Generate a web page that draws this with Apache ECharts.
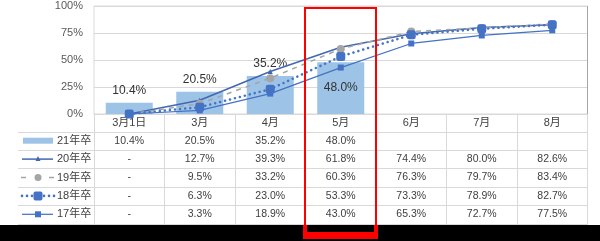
<!DOCTYPE html>
<html><head><meta charset="utf-8">
<script src="https://cdn.jsdelivr.net/npm/echarts@6/dist/echarts.min.js"></script>
<style>html,body{margin:0;padding:0;background:#fff}#c{width:600px;height:241px}</style>
</head><body><div id="c"></div>
<script>
const categories = ['3月1日','3月','4月','5月','6月','7月','8月'];
const yTicks = [0, 25, 50, 75, 100];
const seriesNames = ['21年卒','20年卒','19年卒','18年卒','17年卒'];
const s21 = [10.4, 20.5, 35.2, 48.0, null, null, null];
const s20 = [0, 12.7, 39.3, 61.8, 74.4, 80.0, 82.6];
const s19 = [0, 9.5, 33.2, 60.3, 76.3, 79.7, 83.4];
const s18 = [0, 6.3, 23.0, 53.3, 73.3, 78.9, 82.7];
const s17 = [0, 3.3, 18.9, 43.0, 65.3, 72.7, 77.5];
const allSeries = [s21, s20, s19, s18, s17];

const FONT = '"Liberation Sans Narrow", "Liberation Sans", "Noto Sans CJK JP", sans-serif';
const TXT = '#404040';
const BLUE = '#4472c4';
const DBLUE = '#4168b0';
const GRAY = '#a5a5a5';
const BARC = '#9dc3e6';

const chart = echarts.init(document.getElementById('c'), null, {renderer: 'canvas'});

const barData = s21.map((v, i) => {
  if (v === null) return null;
  if (i === 3) return {value: v, label: {position: 'inside'}};
  return v;
});

chart.setOption({
  animation: false,
  textStyle: {fontFamily: FONT},
  grid: {left: 94, right: 12.5, top: 6, bottom: 127, show: true, borderColor: '#d9d9d9', borderWidth: 1},
  xAxis: {
    type: 'category', data: categories, boundaryGap: true,
    axisLine: {show: true, lineStyle: {color: '#d9d9d9'}},
    axisTick: {show: true, length: 111, lineStyle: {color: '#d9d9d9'}},
    axisLabel: {margin: 3, fontSize: 11, color: TXT, fontFamily: FONT}
  },
  yAxis: {
    type: 'value', min: yTicks[0], max: yTicks[yTicks.length - 1], interval: 25,
    axisLine: {show: false}, axisTick: {show: false},
    splitLine: {lineStyle: {color: '#d9d9d9'}},
    axisLabel: {margin: 11, fontSize: 11, color: '#595959', formatter: '{value}%', fontFamily: FONT}
  },
  series: [
    {name: seriesNames[0], type: 'bar', data: barData, barWidth: 47, itemStyle: {color: BARC}, z: 1,
     label: {show: true, position: 'top', distance: 6, fontSize: 12, color: '#333', fontFamily: FONT,
             formatter: p => p.value.toFixed(1) + '%'}},
    {name: seriesNames[1], type: 'line', data: s20, symbol: 'triangle', symbolSize: 5,
     lineStyle: {color: DBLUE, width: 1.5}, itemStyle: {color: DBLUE}, z: 3},
    {name: seriesNames[2], type: 'line', data: s19, symbol: 'circle', symbolSize: 8,
     lineStyle: {color: GRAY, width: 1.5, type: [5, 5]}, itemStyle: {color: GRAY}, z: 3},
    {name: seriesNames[3], type: 'line', data: s18, symbol: 'roundRect', symbolSize: 9,
     lineStyle: {color: BLUE, width: 2.5, type: [0.1, 5], cap: 'round'}, itemStyle: {color: BLUE}, z: 4},
    {name: seriesNames[4], type: 'line', data: s17, symbol: 'rect', symbolSize: 6,
     lineStyle: {color: BLUE, width: 1.25}, itemStyle: {color: BLUE}, z: 5}
  ]
});

// Table below the plot, built from the same arrays
const rowTop = 131.5, rowH = 18.4;
const tableLeft = 18, tableRight = 587.5;
const g = [];
for (let i = 0; i <= seriesNames.length; i++) {
  const y = Math.round(rowTop + i * rowH) + 0.5;
  g.push({type: 'line', shape: {x1: tableLeft, y1: y, x2: tableRight, y2: y}, style: {stroke: '#d9d9d9', lineWidth: 1}, silent: true});
}
allSeries.forEach((arr, r) => {
  const cy = rowTop + r * rowH + rowH / 2;
  arr.forEach((v, c) => {
    const cx = chart.convertToPixel({xAxisIndex: 0}, c);
    let t;
    if (v === null) t = '';
    else if (r > 0 && v === 0) t = '-';
    else t = v.toFixed(1) + '%';
    g.push({type: 'text', x: cx, y: cy, style: {text: t, fontSize: 10.5, fill: TXT, fontFamily: FONT, align: 'center', verticalAlign: 'middle'}, silent: true});
  });
  g.push({type: 'text', x: 57, y: cy, style: {text: seriesNames[r], fontSize: 11, fill: TXT, fontFamily: FONT, align: 'left', verticalAlign: 'middle'}, silent: true});
  // legend keys
  const x1 = 22, x2 = 53, mx = 38;
  if (r === 0) {
    g.push({type: 'rect', shape: {x: 23, y: cy - 3, width: 30, height: 6}, style: {fill: BARC}});
  } else if (r === 1) {
    g.push({type: 'line', shape: {x1, y1: cy, x2, y2: cy}, style: {stroke: DBLUE, lineWidth: 1.5}});
    g.push({type: 'polygon', shape: {points: [[mx, cy - 3], [mx - 2.5, cy + 2], [mx + 2.5, cy + 2]]}, style: {fill: DBLUE}});
  } else if (r === 2) {
    g.push({type: 'line', shape: {x1: 21, y1: cy, x2: 26, y2: cy}, style: {stroke: GRAY, lineWidth: 1.5}});
    g.push({type: 'line', shape: {x1: 49, y1: cy, x2: 54, y2: cy}, style: {stroke: GRAY, lineWidth: 1.5}});
    g.push({type: 'circle', shape: {cx: mx, cy, r: 3.5}, style: {fill: GRAY}});
  } else if (r === 3) {
    [22, 27, 32, 44, 49, 54].forEach(dx => g.push({type: 'circle', shape: {cx: dx, cy, r: 1.3}, style: {fill: BLUE}}));
    g.push({type: 'rect', shape: {x: mx - 4.5, y: cy - 4.5, width: 9, height: 9, r: 2}, style: {fill: BLUE}});
  } else {
    g.push({type: 'line', shape: {x1, y1: cy, x2, y2: cy}, style: {stroke: BLUE, lineWidth: 1.25}});
    g.push({type: 'rect', shape: {x: mx - 3, y: cy - 3, width: 6, height: 6}, style: {fill: BLUE}});
  }
});
// right border of plot area
g.push({type: 'line', shape: {x1: 587.5, y1: 6, x2: 587.5, y2: 114}, style: {stroke: '#a6a6a6', lineWidth: 1}, silent: true});
// black band and red highlight frame
g.push({type: 'rect', shape: {x: 0, y: 225, width: 600, height: 16}, style: {fill: '#000'}, z: 50});
g.push({type: 'rect', shape: {x: 303, y: 225, width: 75, height: 14}, style: {fill: '#ff0000'}, z: 51});
g.push({type: 'rect', shape: {x: 307, y: 225, width: 67, height: 7}, style: {fill: '#000'}, z: 52});
g.push({type: 'polyline', shape: {points: [[305, 226], [305, 8], [376, 8], [376, 226]]}, style: {stroke: '#ff0000', lineWidth: 2, fill: null}, z: 53});
chart.setOption({graphic: g});
</script>
</body></html>
